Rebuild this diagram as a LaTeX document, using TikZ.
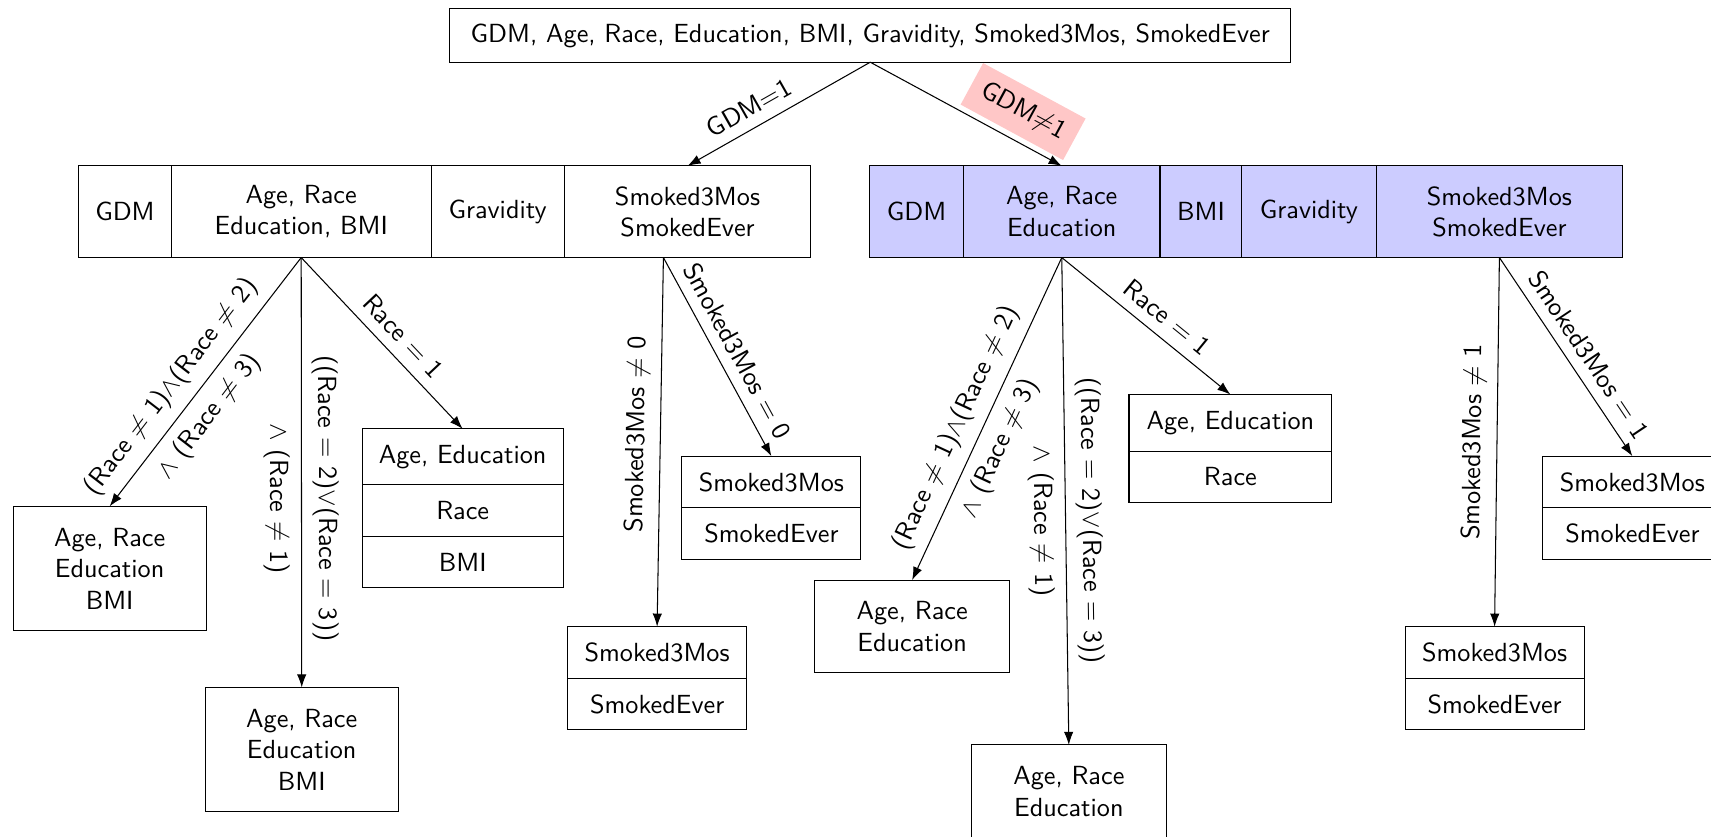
\documentclass[tikz,border=0pt]{standalone}
\usetikzlibrary{positioning,arrows.meta}
\tikzstyle{box}=[rectangle, draw=black, align=center, inner sep=0pt, outer sep=0pt]
\tikzstyle{cellbox}=[box, minimum height=1.228cm, anchor=west]
\tikzstyle{rowbox}=[box, minimum height=0.692cm, anchor=north]
\tikzstyle{leafbox}=[box, anchor=north]
\tikzstyle{arr}=[-{Latex[length=5pt,width=3.6pt]}]
\tikzstyle{condlabel}=[sloped, inner sep=4pt]
\newcommand{\smokebox}[2]
{
  \node[rowbox, minimum width=2.4cm](#1) at (#2){Smoked3Mos};
  \node[rowbox, minimum width=2.4cm, below=0pt of #1](#1b){SmokedEver};
}

\begin{document}
\begin{tikzpicture}[font=\sffamily]
	\useasboundingbox (0,0) rectangle (22.927,-11.215);

	\node[box, minimum width=11.273cm, minimum height=0.7165cm](root) at (11.661,-0.475){GDM, Age, Race, Education, BMI, Gravidity, Smoked3Mos, SmokedEver};

	% first split, GDM=1
	\node[cellbox, minimum width=1.243cm](lgdm) at (1.053,-2.837){GDM};
	\node[cellbox, minimum width=3.48cm, right=0pt of lgdm](lage){Age, Race\\Education, BMI};
	\node[cellbox, minimum width=1.784cm, right=0pt of lage](lgrav){Gravidity};
	\node[cellbox, minimum width=3.305cm, right=0pt of lgrav](lsmk){Smoked3Mos\\SmokedEver};

	% first split, GDM!=1
	\node[cellbox, fill=blue!20, minimum width=1.2575cm](rgdm) at (11.654,-2.837){GDM};
	\node[cellbox, fill=blue!20, minimum width=2.632cm, right=0pt of rgdm](rage){Age, Race\\Education};
	\node[cellbox, fill=blue!20, minimum width=1.097cm, right=0pt of rage](rbmi){BMI};
	\node[cellbox, fill=blue!20, minimum width=1.7985cm, right=0pt of rbmi](rgrav){Gravidity};
	\node[cellbox, fill=blue!20, minimum width=3.305cm, right=0pt of rgrav](rsmk){Smoked3Mos\\SmokedEver};

	% leaves under GDM=1
	\node[leafbox, minimum width=2.588cm, minimum height=1.667cm](lneq) at (1.4695,-6.7846){Age, Race\\Education\\BMI};
	\node[leafbox, minimum width=2.588cm, minimum height=1.667cm](leq) at (4.043,-9.2119){Age, Race\\Education\\BMI};
	\node[rowbox, minimum width=2.69cm, minimum height=0.746cm](lone) at (6.1997,-5.7464){Age, Education};
	\node[rowbox, minimum width=2.69cm, below=0pt of lone](lone2){Race};
	\node[rowbox, minimum width=2.69cm, below=0pt of lone2](lone3){BMI};
	\smokebox{lsn}{8.805,-8.397}
	\smokebox{lse}{10.336,-6.112}

	% leaves under GDM!=1
	\node[leafbox, minimum width=2.616cm, minimum height=1.243cm](rneq) at (12.222,-7.773){Age, Race\\Education};
	\node[leafbox, minimum width=2.616cm, minimum height=1.243cm](req) at (14.322,-9.982){Age, Race\\Education};
	\node[rowbox, minimum width=2.718cm, minimum height=0.759cm](rone) at (16.487,-5.286){Age, Education};
	\node[rowbox, minimum width=2.718cm, below=0pt of rone](rone2){Race};
	\smokebox{rsn}{20.027,-8.397}
	\smokebox{rse}{21.873,-6.112}

	\coordinate (lsplit) at ([xshift=-0.323cm]lsmk.south);

	\draw[arr] (root.south) -- node[condlabel, above, pos=0.61]{GDM=1} (lsmk.north);
	\draw[arr] (root.south) -- node[condlabel, above=2pt, pos=0.725, fill=red!22, inner sep=4.5pt]{GDM$\neq$1} (rage.north);

	\draw[arr] (lage.south) -- node[condlabel, above, pos=0.58]{(Race $\neq$ 1)$\wedge$(Race $\neq$ 2)} node[condlabel, below, pos=0.58]{$\wedge$ (Race $\neq$ 3)} (lneq.north);
	\draw[arr] (lage.south) -- node[condlabel, above, pos=0.56]{((Race $=$ 2)$\vee$(Race $=$ 3))} node[condlabel, below, pos=0.56]{$\wedge$ (Race $\neq$ 1)} (leq.north);
	\draw[arr] (lage.south) -- node[condlabel, above, pos=0.54]{Race $=$ 1} (lone.north);
	\draw[arr] (lsplit) -- node[condlabel, above, pos=0.48]{Smoked3Mos $\neq$ 0} (lsn.north);
	\draw[arr] (lsplit) -- node[condlabel, above, pos=0.52]{Smoked3Mos $=$ 0} (lse.north);

	\draw[arr] (rage.south) -- node[condlabel, above, pos=0.56]{(Race $\neq$ 1)$\wedge$(Race $\neq$ 2)} node[condlabel, below, pos=0.56]{$\wedge$ (Race $\neq$ 3)} (rneq.north);
	\draw[arr] (rage.south) -- node[condlabel, above, pos=0.54]{((Race $=$ 2)$\vee$(Race $=$ 3))} node[condlabel, below, pos=0.54]{$\wedge$ (Race $\neq$ 1)} (req.north);
	\draw[arr] (rage.south) -- node[condlabel, above, pos=0.55]{Race $=$ 1} (rone.north);
	\draw[arr] (rsmk.south) -- node[condlabel, above, pos=0.5]{Smoked3Mos $\neq$ 1} (rsn.north);
	\draw[arr] (rsmk.south) -- node[condlabel, above, pos=0.546]{Smoked3Mos $=$ 1} (rse.north);

\end{tikzpicture}
\end{document}
